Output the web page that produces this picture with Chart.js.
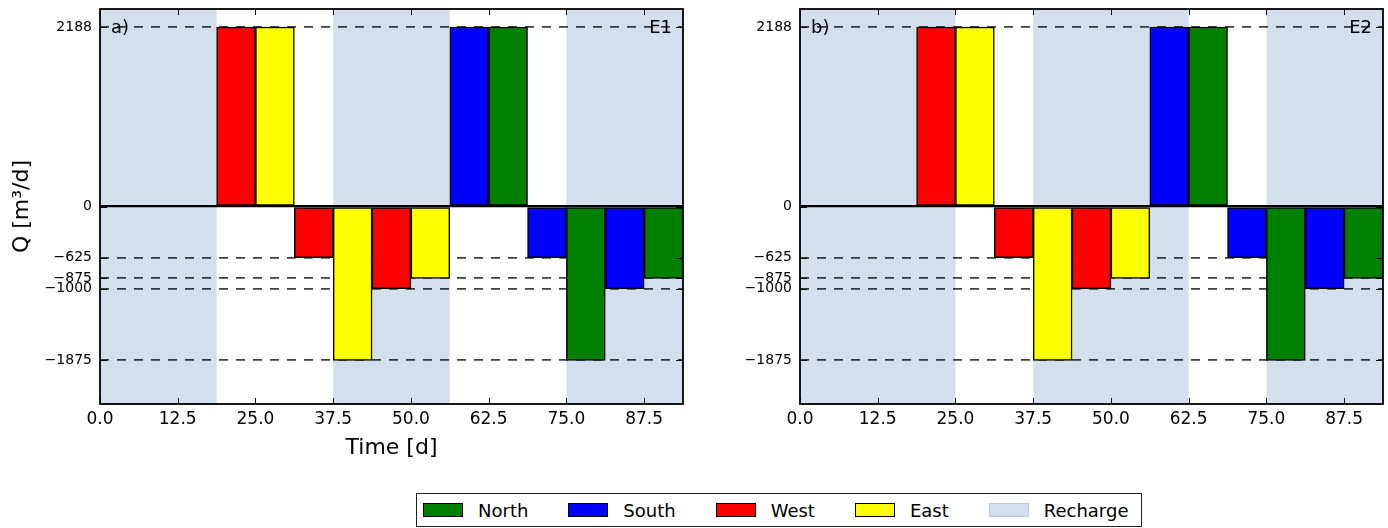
<!DOCTYPE html>
<html>
<head>
<meta charset="utf-8">
<script src="https://cdn.jsdelivr.net/npm/chart.js@4"></script>
<style>
  body { margin: 0; width: 1388px; height: 528px; background: #fff; position: relative; overflow: hidden; font-family: "DejaVu Sans", sans-serif; }
  canvas { position: absolute; top: 0; }
  #legend { position: absolute; left: 416px; top: 493px; width: 726px; height: 34px; border: 1px solid #222;
    box-sizing: border-box; display: flex; align-items: center; padding-left: 6px; font-size: 18px; color: #000; }
  .item { display: flex; align-items: center; margin-right: 40px; }
  .item:last-child { margin-right: 0; }
  .sw { width: 38px; height: 12px; border: 1px solid #000; margin-right: 15px; }
</style>
</head>
<body>
<canvas id="panelA" width="694" height="470" style="left:0"></canvas>
<canvas id="panelB" width="688" height="470" style="left:700px"></canvas>
<div id="legend"></div>
<script>
// bar centres (days) and flow values (m3/d) for each boundary
const northTime = [65.625, 78.125, 90.625];
const northQ = [2188, -1875, -875];
const southTime = [59.375, 71.875, 84.375];
const southQ = [2188, -625, -1000];
const westTime = [21.875, 34.375, 46.875];
const westQ = [2188, -625, -1000];
const eastTime = [28.125, 40.625, 53.125];
const eastQ = [2188, -1875, -875];

// recharge periods [start, end] in days
const rechargeE1 = [[0, 18.75], [37.5, 56.25], [75, 93.75]];
const rechargeE2 = [[0, 25], [37.5, 62.5], [75, 93.75]];

const xTicks = [0, 12.5, 25, 37.5, 50, 62.5, 75, 87.5];
const yTicks = [2188, 0, -625, -875, -1000, -1875];

const rechargeColor = 'rgba(176,196,222,0.55)';
const regions = [
  { label: 'North', color: '#008000', t: northTime, q: northQ },
  { label: 'South', color: '#0000ff', t: southTime, q: southQ },
  { label: 'West', color: '#ff0000', t: westTime, q: westQ },
  { label: 'East', color: '#ffff00', t: eastTime, q: eastQ }
];

Chart.defaults.font.family = 'DejaVu Sans';
Chart.defaults.color = '#000';

function makePanel(id, recharge, letter, tag, showTitles, padRight) {
  const shading = {
    id: 'shading',
    beforeDraw(chart) {
      const { ctx, chartArea: a, scales: { x } } = chart;
      ctx.save();
      ctx.fillStyle = rechargeColor;
      recharge.forEach(p => {
        const x0 = x.getPixelForValue(p[0]);
        const x1 = x.getPixelForValue(p[1]);
        ctx.fillRect(x0, a.top, x1 - x0, a.bottom - a.top);
      });
      ctx.restore();
    }
  };
  const frame = {
    id: 'frame',
    afterDraw(chart) {
      const { ctx, chartArea: a, scales: { x, y } } = chart;
      ctx.save();
      ctx.strokeStyle = '#000';
      ctx.lineWidth = 1;
      ctx.beginPath();
      yTicks.forEach(v => {
        const py = Math.round(y.getPixelForValue(v)) + 0.5;
        ctx.moveTo(a.left, py); ctx.lineTo(a.left + 7, py);
        ctx.moveTo(a.right, py); ctx.lineTo(a.right - 7, py);
      });
      xTicks.forEach(v => {
        const px = Math.round(x.getPixelForValue(v)) + 0.5;
        ctx.moveTo(px, a.bottom); ctx.lineTo(px, a.bottom - 6);
        ctx.moveTo(px, a.top); ctx.lineTo(px, a.top + 6);
      });
      ctx.stroke();
      ctx.lineWidth = 1.8;
      ctx.strokeRect(a.left, a.top, a.right - a.left, a.bottom - a.top);
      ctx.font = '18px "DejaVu Sans"';
      ctx.fillStyle = '#000';
      ctx.textBaseline = 'middle';
      const ty = y.getPixelForValue(2188) + 1;
      ctx.textAlign = 'left';
      ctx.fillText(letter, a.left + 11, ty);
      ctx.textAlign = 'right';
      ctx.fillText(tag, a.right - 11, ty);
      ctx.restore();
    }
  };

  return new Chart(document.getElementById(id), {
    type: 'bar',
    data: {
      datasets: regions.map(r => ({
        label: r.label,
        data: r.t.map((t, i) => ({ x: t, y: r.q[i] })),
        backgroundColor: r.color,
        borderColor: '#000',
        borderWidth: 1.5,
        borderSkipped: false,
        grouped: false,
        barPercentage: 1,
        categoryPercentage: 1
      }))
    },
    options: {
      responsive: false,
      animation: false,
      layout: { padding: { top: 9, right: padRight, left: 0, bottom: 0 } },
      plugins: { legend: { display: false }, tooltip: { enabled: false } },
      scales: {
        x: {
          type: 'linear', min: 0, max: 93.75, offset: false,
          afterBuildTicks: s => { s.ticks = xTicks.map(v => ({ value: v })); },
          afterFit: s => { s.height = 66; s.paddingLeft = 0; s.paddingRight = 0; },
          grid: { display: false, drawTicks: false, offset: false },
          border: { display: false },
          ticks: { autoSkip: false, maxRotation: 0, padding: 5, font: { size: 17 },
            callback: v => v.toFixed(1) },
          title: { display: showTitles, text: 'Time [d]', font: { size: 22 }, padding: { top: 0, bottom: 9 } }
        },
        y: {
          min: -2407, max: 2407,
          afterBuildTicks: s => { s.ticks = yTicks.map(v => ({ value: v })); },
          afterFit: s => { s.width = 100; s.paddingTop = 0; s.paddingBottom = 0; },
          grid: {
            drawTicks: false,
            color: c => (c.tick && c.tick.value === 0) ? '#000' : 'rgba(0,0,0,0.75)',
            lineWidth: c => (c.tick && c.tick.value === 0) ? 2.2 : 1.7
          },
          border: { display: false, dash: c => (c.tick && c.tick.value !== 0) ? [9, 8] : [] },
          ticks: { autoSkip: false, padding: 8, font: { size: 14 },
            callback: v => String(v).replace('-', '\u2212') },
          title: { display: showTitles, text: 'Q [m³/d]', font: { size: 22 }, padding: { top: 9, bottom: 0 } }
        }
      }
    },
    plugins: [shading, frame]
  });
}

makePanel('panelA', rechargeE1, 'a)', 'E1', true, 11);
makePanel('panelB', rechargeE2, 'b)', 'E2', false, 5);

// legend across both panels
const legend = document.getElementById('legend');
regions.concat([{ label: 'Recharge', color: rechargeColor }]).forEach(r => {
  const item = document.createElement('div');
  item.className = 'item';
  const sw = document.createElement('span');
  sw.className = 'sw';
  sw.style.background = r.color;
  if (r.label === 'Recharge') sw.style.borderColor = 'rgba(176,196,222,0.7)';
  const txt = document.createElement('span');
  txt.textContent = r.label;
  item.appendChild(sw);
  item.appendChild(txt);
  legend.appendChild(item);
});
</script>
</body>
</html>
